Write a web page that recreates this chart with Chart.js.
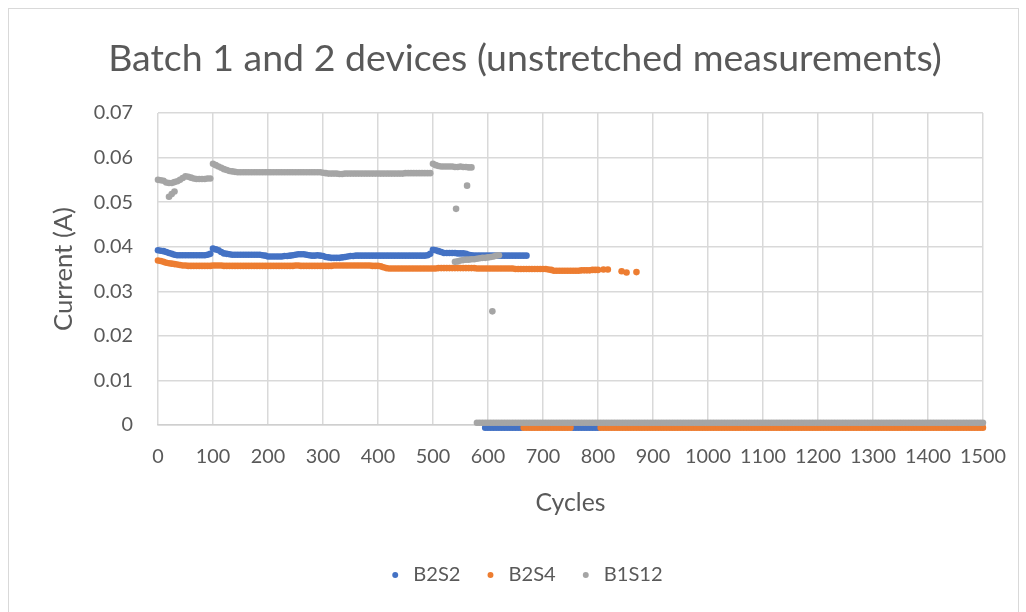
<!DOCTYPE html>
<html>
<head>
<meta charset="utf-8">
<script src="https://cdn.jsdelivr.net/npm/chart.js@4.4.1/dist/chart.umd.min.js"></script>
<style>
html,body{margin:0;padding:0;background:#fff;}
#wrap{position:relative;width:1026px;height:612px;overflow:hidden;}
#frame{position:absolute;left:8px;top:8px;width:1011px;height:640px;border:1px solid #d9d9d9;box-sizing:border-box;pointer-events:none;}
canvas{position:absolute;left:0;top:0;}
</style>
</head>
<body>
<div id="wrap"><canvas id="c" width="1026" height="612"></canvas><div id="frame"></div></div>
<script>
// ---------------- DATA ----------------
const chartTitle = 'Batch 1 and 2 devices (unstretched measurements)';
const xAxisTitle = 'Cycles';
const yAxisTitle = 'Current (A)';
const seriesNames = ['B2S2', 'B2S4', 'B1S12'];
const xTickLabels = ['0','100','200','300','400','500','600','700','800','900','1000','1100','1200','1300','1400','1500'];
const yTickLabels = ['0','0.01','0.02','0.03','0.04','0.05','0.06','0.07'];

const B2S2_cycles = [
  0,5,10,15,20,25,30,35,40,45,
  50,55,60,65,70,75,80,85,90,95,
  100,105,110,115,120,125,130,135,140,145,
  150,155,160,165,170,175,180,185,190,195,
  200,205,210,215,220,225,230,235,240,245,
  250,255,260,265,270,275,280,285,290,295,
  300,305,310,315,320,325,330,335,340,345,
  350,355,360,365,370,375,380,385,390,395,
  400,405,410,415,420,425,430,435,440,445,
  450,455,460,465,470,475,480,485,490,495,
  500,505,510,515,520,525,530,535,540,545,
  550,555,560,565,570,575,580,585,590,595,
  600,605,610,615,620,625,630,635,640,645,
  650,655,660,665,670,
  595,600,605,610,615,620,625,630,635,640,
  645,650,655,660,
  755,760,765,770,775,780,785,790,795,800
];
const B2S2_current = [
  0.0392,0.0391,0.0390,0.0388,0.0386,0.0384,0.0382,0.0381,0.0381,0.0381,
  0.0381,0.0381,0.0381,0.0381,0.0381,0.0381,0.0381,0.0381,0.0382,0.0384,
  0.0396,0.0394,0.0392,0.0388,0.0385,0.0384,0.0383,0.0382,0.0382,0.0382,
  0.0382,0.0382,0.0382,0.0382,0.0382,0.0382,0.0382,0.0382,0.0381,0.0380,
  0.0378,0.0378,0.0378,0.0378,0.0378,0.0378,0.0379,0.0379,0.0380,0.0381,
  0.0382,0.0383,0.0383,0.0383,0.0382,0.0381,0.0380,0.0380,0.0381,0.0380,
  0.0379,0.0377,0.0376,0.0375,0.0375,0.0375,0.0375,0.0376,0.0377,0.0378,
  0.0379,0.0379,0.0380,0.0380,0.0380,0.0380,0.0380,0.0380,0.0380,0.0380,
  0.0380,0.0380,0.0380,0.0380,0.0380,0.0380,0.0380,0.0380,0.0380,0.0380,
  0.0380,0.0380,0.0380,0.0380,0.0380,0.0380,0.0380,0.0380,0.0381,0.0384,
  0.0393,0.0392,0.0390,0.0388,0.0386,0.0386,0.0386,0.0386,0.0386,0.0385,
  0.0385,0.0385,0.0384,0.0382,0.0381,0.0380,0.0380,0.0380,0.0380,0.0380,
  0.0380,0.0380,0.0380,0.0380,0.0380,0.0380,0.0380,0.0380,0.0380,0.0380,
  0.0380,0.0380,0.0380,0.0380,0.0380,
  -0.0006,-0.0006,-0.0006,-0.0006,-0.0006,-0.0006,-0.0006,-0.0006,-0.0006,-0.0006,
  -0.0006,-0.0006,-0.0006,-0.0006,
  -0.0006,-0.0006,-0.0006,-0.0006,-0.0006,-0.0006,-0.0006,-0.0006,-0.0006,-0.0006
];

const B2S4_cycles = [
  0,5,10,15,20,25,30,35,40,45,
  50,55,60,65,70,75,80,85,90,95,
  100,105,110,115,120,125,130,135,140,145,
  150,155,160,165,170,175,180,185,190,195,
  200,205,210,215,220,225,230,235,240,245,
  250,255,260,265,270,275,280,285,290,295,
  300,305,310,315,320,325,330,335,340,345,
  350,355,360,365,370,375,380,385,390,395,
  400,405,410,415,420,425,430,435,440,445,
  450,455,460,465,470,475,480,485,490,495,
  500,505,510,515,520,525,530,535,540,545,
  550,555,560,565,570,575,580,585,590,595,
  600,605,610,615,620,625,630,635,640,645,
  650,655,660,665,670,675,680,685,690,695,
  700,705,710,715,720,725,730,735,740,745,
  750,755,760,765,770,775,780,785,790,795,
  800,
  810,818,843,852,870,
  665,670,675,680,685,690,695,700,705,710,
  715,720,725,730,735,740,745,750,
  805,810,815,820,825,830,835,840,845,850,
  855,860,865,870,875,880,885,890,895,900,
  905,910,915,920,925,930,935,940,945,950,
  955,960,965,970,975,980,985,990,995,1000,
  1005,1010,1015,1020,1025,1030,1035,1040,1045,1050,
  1055,1060,1065,1070,1075,1080,1085,1090,1095,1100,
  1105,1110,1115,1120,1125,1130,1135,1140,1145,1150,
  1155,1160,1165,1170,1175,1180,1185,1190,1195,1200,
  1205,1210,1215,1220,1225,1230,1235,1240,1245,1250,
  1255,1260,1265,1270,1275,1280,1285,1290,1295,1300,
  1305,1310,1315,1320,1325,1330,1335,1340,1345,1350,
  1355,1360,1365,1370,1375,1380,1385,1390,1395,1400,
  1405,1410,1415,1420,1425,1430,1435,1440,1445,1450,
  1455,1460,1465,1470,1475,1480,1485,1490,1495,1500
];
const B2S4_current = [
  0.0369,0.0368,0.0366,0.0364,0.0363,0.0362,0.0361,0.0360,0.0359,0.0358,
  0.0358,0.0357,0.0357,0.0357,0.0357,0.0357,0.0357,0.0357,0.0357,0.0357,
  0.0358,0.0358,0.0358,0.0358,0.0357,0.0357,0.0357,0.0357,0.0357,0.0357,
  0.0357,0.0357,0.0357,0.0357,0.0357,0.0357,0.0357,0.0357,0.0357,0.0357,
  0.0357,0.0357,0.0357,0.0357,0.0357,0.0357,0.0357,0.0357,0.0357,0.0357,
  0.0358,0.0358,0.0357,0.0357,0.0357,0.0357,0.0357,0.0357,0.0357,0.0357,
  0.0357,0.0357,0.0357,0.0357,0.0358,0.0358,0.0358,0.0358,0.0358,0.0358,
  0.0358,0.0358,0.0358,0.0358,0.0358,0.0358,0.0358,0.0358,0.0357,0.0357,
  0.0357,0.0356,0.0354,0.0352,0.0351,0.0351,0.0351,0.0351,0.0351,0.0351,
  0.0351,0.0351,0.0351,0.0351,0.0351,0.0351,0.0351,0.0351,0.0351,0.0351,
  0.0351,0.0351,0.0352,0.0352,0.0352,0.0352,0.0352,0.0352,0.0352,0.0352,
  0.0352,0.0352,0.0352,0.0352,0.0352,0.0352,0.0351,0.0351,0.0351,0.0351,
  0.0351,0.0351,0.0351,0.0351,0.0351,0.0351,0.0351,0.0351,0.0351,0.0351,
  0.0350,0.0350,0.0350,0.0350,0.0350,0.0350,0.0350,0.0350,0.0350,0.0350,
  0.0350,0.0350,0.0349,0.0348,0.0346,0.0346,0.0346,0.0346,0.0346,0.0346,
  0.0346,0.0346,0.0346,0.0346,0.0347,0.0347,0.0347,0.0347,0.0348,0.0348,
  0.0348,
  0.0349,0.0349,0.0345,0.0342,0.0343,
  -0.0006,-0.0006,-0.0006,-0.0006,-0.0006,-0.0006,-0.0006,-0.0006,-0.0006,-0.0006,
  -0.0006,-0.0006,-0.0006,-0.0006,-0.0006,-0.0006,-0.0006,-0.0006,
  -0.0006,-0.0006,-0.0006,-0.0006,-0.0006,-0.0006,-0.0006,-0.0006,-0.0006,-0.0006,
  -0.0006,-0.0006,-0.0006,-0.0006,-0.0006,-0.0006,-0.0006,-0.0006,-0.0006,-0.0006,
  -0.0006,-0.0006,-0.0006,-0.0006,-0.0006,-0.0006,-0.0006,-0.0006,-0.0006,-0.0006,
  -0.0006,-0.0006,-0.0006,-0.0006,-0.0006,-0.0006,-0.0006,-0.0006,-0.0006,-0.0006,
  -0.0006,-0.0006,-0.0006,-0.0006,-0.0006,-0.0006,-0.0006,-0.0006,-0.0006,-0.0006,
  -0.0006,-0.0006,-0.0006,-0.0006,-0.0006,-0.0006,-0.0006,-0.0006,-0.0006,-0.0006,
  -0.0006,-0.0006,-0.0006,-0.0006,-0.0006,-0.0006,-0.0006,-0.0006,-0.0006,-0.0006,
  -0.0006,-0.0006,-0.0006,-0.0006,-0.0006,-0.0006,-0.0006,-0.0006,-0.0006,-0.0006,
  -0.0006,-0.0006,-0.0006,-0.0006,-0.0006,-0.0006,-0.0006,-0.0006,-0.0006,-0.0006,
  -0.0006,-0.0006,-0.0006,-0.0006,-0.0006,-0.0006,-0.0006,-0.0006,-0.0006,-0.0006,
  -0.0006,-0.0006,-0.0006,-0.0006,-0.0006,-0.0006,-0.0006,-0.0006,-0.0006,-0.0006,
  -0.0006,-0.0006,-0.0006,-0.0006,-0.0006,-0.0006,-0.0006,-0.0006,-0.0006,-0.0006,
  -0.0006,-0.0006,-0.0006,-0.0006,-0.0006,-0.0006,-0.0006,-0.0006,-0.0006,-0.0006,
  -0.0006,-0.0006,-0.0006,-0.0006,-0.0006,-0.0006,-0.0006,-0.0006,-0.0006,-0.0006
];

const B1S12_cycles = [
  0,5,10,15,20,25,30,35,40,45,
  50,55,60,65,70,75,80,85,90,95,
  100,105,110,115,120,125,130,135,140,145,
  150,155,160,165,170,175,180,185,190,195,
  200,205,210,215,220,225,230,235,240,245,
  250,255,260,265,270,275,280,285,290,295,
  300,305,310,315,320,325,330,335,340,345,
  350,355,360,365,370,375,380,385,390,395,
  400,405,410,415,420,425,430,435,440,445,
  450,455,460,465,470,475,480,485,490,495,
  500,505,510,515,520,525,530,535,540,545,
  550,555,560,565,570,
  20,25,30,
  542,562,608,
  540,545,550,555,560,565,570,575,580,585,
  590,595,600,605,610,615,620,
  580,585,590,595,600,605,610,615,620,625,
  630,635,640,645,650,655,660,665,670,675,
  680,685,690,695,700,705,710,715,720,725,
  730,735,740,745,750,755,760,765,770,775,
  780,785,790,795,800,805,810,815,820,825,
  830,835,840,845,850,855,860,865,870,875,
  880,885,890,895,900,905,910,915,920,925,
  930,935,940,945,950,955,960,965,970,975,
  980,985,990,995,1000,1005,1010,1015,1020,1025,
  1030,1035,1040,1045,1050,1055,1060,1065,1070,1075,
  1080,1085,1090,1095,1100,1105,1110,1115,1120,1125,
  1130,1135,1140,1145,1150,1155,1160,1165,1170,1175,
  1180,1185,1190,1195,1200,1205,1210,1215,1220,1225,
  1230,1235,1240,1245,1250,1255,1260,1265,1270,1275,
  1280,1285,1290,1295,1300,1305,1310,1315,1320,1325,
  1330,1335,1340,1345,1350,1355,1360,1365,1370,1375,
  1380,1385,1390,1395,1400,1405,1410,1415,1420,1425,
  1430,1435,1440,1445,1450,1455,1460,1465,1470,1475,
  1480,1485,1490,1495,1500
];
const B1S12_current = [
  0.0550,0.0549,0.0548,0.0544,0.0543,0.0543,0.0545,0.0547,0.0550,0.0554,
  0.0558,0.0557,0.0555,0.0553,0.0552,0.0552,0.0552,0.0552,0.0553,0.0553,
  0.0586,0.0583,0.0580,0.0577,0.0574,0.0572,0.0570,0.0569,0.0568,0.0567,
  0.0567,0.0567,0.0567,0.0567,0.0567,0.0567,0.0567,0.0567,0.0567,0.0567,
  0.0567,0.0567,0.0567,0.0567,0.0567,0.0567,0.0567,0.0567,0.0567,0.0567,
  0.0567,0.0567,0.0567,0.0567,0.0567,0.0567,0.0567,0.0567,0.0567,0.0567,
  0.0566,0.0565,0.0564,0.0564,0.0564,0.0564,0.0563,0.0563,0.0564,0.0564,
  0.0564,0.0564,0.0564,0.0564,0.0564,0.0564,0.0564,0.0564,0.0564,0.0564,
  0.0564,0.0564,0.0564,0.0564,0.0564,0.0564,0.0564,0.0564,0.0564,0.0564,
  0.0565,0.0565,0.0565,0.0565,0.0565,0.0565,0.0565,0.0565,0.0565,0.0565,
  0.0586,0.0583,0.0581,0.0580,0.0580,0.0580,0.0580,0.0580,0.0579,0.0579,
  0.0580,0.0579,0.0579,0.0578,0.0578,
  0.0512,0.0518,0.0524,
  0.0485,0.0537,0.0255,
  0.0366,0.0367,0.0369,0.0370,0.0371,0.0371,0.0372,0.0372,0.0373,0.0374,
  0.0375,0.0375,0.0376,0.0377,0.0378,0.0380,0.0381,
  0.0005,0.0005,0.0005,0.0005,0.0005,0.0005,0.0005,0.0005,0.0005,0.0005,
  0.0005,0.0005,0.0005,0.0005,0.0005,0.0005,0.0005,0.0005,0.0005,0.0005,
  0.0005,0.0005,0.0005,0.0005,0.0005,0.0005,0.0005,0.0005,0.0005,0.0005,
  0.0005,0.0005,0.0005,0.0005,0.0005,0.0005,0.0005,0.0005,0.0005,0.0005,
  0.0005,0.0005,0.0005,0.0005,0.0005,0.0005,0.0005,0.0005,0.0005,0.0005,
  0.0005,0.0005,0.0005,0.0005,0.0005,0.0005,0.0005,0.0005,0.0005,0.0005,
  0.0005,0.0005,0.0005,0.0005,0.0005,0.0005,0.0005,0.0005,0.0005,0.0005,
  0.0005,0.0005,0.0005,0.0005,0.0005,0.0005,0.0005,0.0005,0.0005,0.0005,
  0.0005,0.0005,0.0005,0.0005,0.0005,0.0005,0.0005,0.0005,0.0005,0.0005,
  0.0005,0.0005,0.0005,0.0005,0.0005,0.0005,0.0005,0.0005,0.0005,0.0005,
  0.0005,0.0005,0.0005,0.0005,0.0005,0.0005,0.0005,0.0005,0.0005,0.0005,
  0.0005,0.0005,0.0005,0.0005,0.0005,0.0005,0.0005,0.0005,0.0005,0.0005,
  0.0005,0.0005,0.0005,0.0005,0.0005,0.0005,0.0005,0.0005,0.0005,0.0005,
  0.0005,0.0005,0.0005,0.0005,0.0005,0.0005,0.0005,0.0005,0.0005,0.0005,
  0.0005,0.0005,0.0005,0.0005,0.0005,0.0005,0.0005,0.0005,0.0005,0.0005,
  0.0005,0.0005,0.0005,0.0005,0.0005,0.0005,0.0005,0.0005,0.0005,0.0005,
  0.0005,0.0005,0.0005,0.0005,0.0005,0.0005,0.0005,0.0005,0.0005,0.0005,
  0.0005,0.0005,0.0005,0.0005,0.0005,0.0005,0.0005,0.0005,0.0005,0.0005,
  0.0005,0.0005,0.0005,0.0005,0.0005
];

// ---------------- STYLE / LAYOUT ----------------
const seriesColors = ['#4472C4', '#ED7D31', '#A5A5A5'];
const textColor = '#595959';
const gridColor = '#d9d9d9';
const FAMILY = 'Lato, Carlito, Calibri, "Open Sans", sans-serif';

function fitSize(text, target) {
  const ctx = document.createElement('canvas').getContext('2d');
  ctx.font = '100px ' + FAMILY;
  return 100 * target / ctx.measureText(text).width;
}

const AREA = { left: 158, right: 984, top: 113, bottom: 425 };
const W = 1026, H = 612;

const titleSize = fitSize(chartTitle, 834);
const tickSize = fitSize('1500', 46);
const xTitleSize = fitSize(xAxisTitle, 70);
const yTitleSize = fitSize(yAxisTitle, 124);
const legendSize = fitSize('B1S12', 59);

const padLeft = 66;
const padRight = W - AREA.right;

const titleLH = titleSize * 1.2;
const titlePadTop = 58.5 - titleLH / 2;
const titlePadBottom = AREA.top - titlePadTop - titleLH;

const legBox = 36 - legendSize;
const legPad = 30 - legBox / 2;
const legHeight = legendSize + legPad + 10;
const padBottom = 612 - 575 - legendSize / 2 - 10;
const legendTop = H - padBottom - legHeight;

const xScaleHeight = legendTop - AREA.bottom;
const xTitleLH = xTitleSize * 1.2;
const xTitlePadBottom = legendTop - 503 - xTitleLH / 2;
const xTickPad = 457 - AREA.bottom - tickSize * 1.2 / 2;

const yScaleWidth = AREA.left - padLeft;
const yTitleLH = yTitleSize * 1.2;
const yTitlePadTop = 64 - padLeft - yTitleLH / 2;

function makeData(xs, ys) {
  return xs.map((x, i) => ({ x: x, y: ys[i] }));
}

const datasets = [
  { label: seriesNames[0], data: makeData(B2S2_cycles, B2S2_current), backgroundColor: seriesColors[0], order: 2 },
  { label: seriesNames[1], data: makeData(B2S4_cycles, B2S4_current), backgroundColor: seriesColors[1], order: 1 },
  { label: seriesNames[2], data: makeData(B1S12_cycles, B1S12_current), backgroundColor: seriesColors[2], order: 0 }
].map(d => Object.assign(d, {
  borderColor: d.backgroundColor,
  pointRadius: 3.3,
  pointHoverRadius: 3.3,
  pointBorderWidth: 0,
  borderWidth: 0,
  clip: false
}));

new Chart(document.getElementById('c'), {
  type: 'scatter',
  data: { datasets: datasets },
  options: {
    responsive: false,
    animation: false,
    devicePixelRatio: 1,
    layout: { padding: { left: padLeft, right: padRight, top: 0, bottom: padBottom } },
    plugins: {
      tooltip: { enabled: false },
      title: {
        display: true,
        text: chartTitle,
        color: textColor,
        font: { family: FAMILY, size: titleSize, weight: 'normal', lineHeight: 1.2 },
        padding: { top: titlePadTop, bottom: titlePadBottom }
      },
      legend: {
        display: true,
        position: 'bottom',
        labels: {
          usePointStyle: true,
          pointStyle: 'circle',
          boxWidth: legBox,
          boxHeight: 4.2,
          padding: legPad,
          color: textColor,
          font: { family: FAMILY, size: legendSize },
          sort: (a, b) => a.datasetIndex - b.datasetIndex
        }
      }
    },
    scales: {
      x: {
        type: 'linear',
        min: 0, max: 1500,
        afterFit: (s) => { s.height = xScaleHeight; },
        ticks: {
          stepSize: 100,
          autoSkip: false,
          maxRotation: 0,
          minRotation: 0,
          padding: xTickPad,
          color: textColor,
          font: { family: FAMILY, size: tickSize },
          callback: (v, i) => xTickLabels[i]
        },
        grid: { color: gridColor, lineWidth: 1.5, drawTicks: false },
        border: { display: true, color: '#cfcfcf', width: 1.5 },
        title: {
          display: true,
          text: xAxisTitle,
          color: textColor,
          font: { family: FAMILY, size: xTitleSize, lineHeight: 1.2 },
          padding: { top: 0, bottom: xTitlePadBottom }
        }
      },
      y: {
        type: 'linear',
        min: 0, max: 0.07,
        afterFit: (s) => { s.width = yScaleWidth; },
        ticks: {
          stepSize: 0.01,
          padding: AREA.left - 133,
          color: textColor,
          font: { family: FAMILY, size: tickSize },
          callback: (v, i) => yTickLabels[i]
        },
        grid: { color: gridColor, lineWidth: 1.5, drawTicks: false },
        border: { display: false },
        title: {
          display: true,
          text: yAxisTitle,
          color: textColor,
          font: { family: FAMILY, size: yTitleSize, lineHeight: 1.2 },
          padding: { top: yTitlePadTop, bottom: 0 }
        }
      }
    }
  }
});
</script>
</body>
</html>
